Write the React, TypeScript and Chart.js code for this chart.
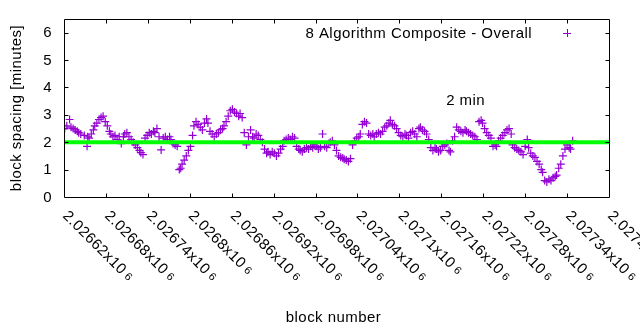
import React, { useEffect, useRef } from 'react';
import { Chart, registerables } from 'chart.js';

Chart.register(...registerables);

// ---- data ----
const BLOCKS: number[] = [
  2026621, 2026624, 2026628, 2026630, 2026633, 2026636, 2026639, 2026641, 2026644, 2026649,
  2026653, 2026654, 2026656, 2026659, 2026662, 2026664, 2026667, 2026670, 2026673, 2026676,
  2026679, 2026682, 2026685, 2026687, 2026690, 2026693, 2026696, 2026699, 2026702, 2026705,
  2026707, 2026710, 2026713, 2026716, 2026719, 2026722, 2026725, 2026728, 2026730, 2026733,
  2026736, 2026739, 2026742, 2026745, 2026748, 2026750, 2026753, 2026756, 2026759, 2026762,
  2026765, 2026768, 2026771, 2026773, 2026776, 2026779, 2026782, 2026785, 2026787, 2026789,
  2026792, 2026795, 2026798, 2026801, 2026804, 2026806, 2026809, 2026812, 2026815, 2026818,
  2026821, 2026824, 2026826, 2026829, 2026832, 2026835, 2026838, 2026841, 2026844, 2026847,
  2026849, 2026852, 2026855, 2026858, 2026861, 2026864, 2026867, 2026870, 2026872, 2026875,
  2026878, 2026881, 2026884, 2026887, 2026890, 2026892, 2026895, 2026898, 2026901, 2026904,
  2026907, 2026910, 2026912, 2026915, 2026918, 2026921, 2026924, 2026927, 2026930, 2026933,
  2026935, 2026938, 2026941, 2026944, 2026947, 2026950, 2026953, 2026956, 2026958, 2026961,
  2026964, 2026967, 2026970, 2026973, 2026976, 2026978, 2026981, 2026984, 2026987, 2026990,
  2026993, 2026996, 2026999, 2027001, 2027004, 2027007, 2027010, 2027013, 2027016, 2027019,
  2027021, 2027024, 2027027, 2027030, 2027033, 2027036, 2027039, 2027042, 2027044, 2027047,
  2027050, 2027053, 2027056, 2027059, 2027062, 2027064, 2027067, 2027070, 2027073, 2027076,
  2027079, 2027082, 2027085, 2027087, 2027090, 2027093, 2027096, 2027099, 2027102, 2027105,
  2027108, 2027110, 2027113, 2027116, 2027119, 2027122, 2027125, 2027128, 2027130, 2027133,
  2027136, 2027139, 2027142, 2027145, 2027148, 2027151, 2027153, 2027156, 2027159, 2027162,
  2027165, 2027168, 2027171, 2027173, 2027176, 2027179, 2027182, 2027185, 2027188, 2027191,
  2027194, 2027196, 2027199, 2027202, 2027205, 2027208, 2027211, 2027214, 2027217, 2027219,
  2027222, 2027225, 2027228, 2027231, 2027234, 2027237, 2027239, 2027242, 2027245, 2027248,
  2027251, 2027254, 2027257, 2027260, 2027262, 2027265, 2027268, 2027271, 2027274, 2027277,
  2027280, 2027283, 2027285, 2027288, 2027291, 2027294, 2027297, 2027300, 2027303, 2027305,
  2027308, 2027311, 2027314, 2027317, 2027320, 2027323, 2027325, 2027328, 2027331, 2027334,
  2027337, 2027340, 2027343, 2027345, 2027348,
];

const SPACING_MIN: number[] = [
  2.5, 2.6, 2.83, 2.55, 2.5, 2.45, 2.4, 2.35, 2.3, 2.25,
  1.85, 2.2, 2.15, 2.3, 2.45, 2.6, 2.7, 2.83, 2.9, 2.95,
  2.75, 2.6, 2.4, 2.3, 2.2, 2.25, 2.1, 2.2, 1.95, 2.2,
  2.3, 2.35, 2.2, 2.1, 2.0, 1.9, 1.8, 1.7, 1.62, 1.55,
  2.15, 2.25, 2.35, 2.3, 2.4, 2.35, 2.5, 2.2, 1.72, 2.15,
  2.2, 2.1, 2.2, 2.1, 1.95, 1.9, 1.85, 1.0, 1.05, 1.2,
  1.35, 1.5, 1.7, 1.85, 2.25, 2.6, 2.75, 2.65, 2.55, 2.45,
  2.7, 2.85, 2.7, 2.4, 2.3, 2.2, 2.3, 2.35, 2.45, 2.5,
  2.6, 2.75, 2.95, 3.15, 3.2, 3.1, 3.05, 2.95, 3.05, 2.9,
  2.35, 1.9, 2.2, 2.45, 2.2, 2.15, 2.3, 2.25, 2.1, 2.0,
  1.75, 1.6, 1.65, 1.55, 1.65, 1.6, 1.5, 1.6, 1.75, 1.85,
  2.05, 2.1, 2.15, 2.1, 2.2, 2.15, 1.85, 1.75, 1.7, 1.65,
  1.75, 1.8, 1.75, 1.85, 1.8, 1.9, 1.85, 1.75, 1.8, 2.3,
  1.85, 1.8, 1.95, 2.0, 2.05, 1.9, 1.7, 1.5, 1.45, 1.42,
  1.38, 1.35, 1.3, 1.4, 1.9, 2.05, 2.15, 2.2, 2.3, 2.65,
  2.75, 2.7, 2.3, 2.25, 2.3, 2.2, 2.3, 2.35, 2.3, 2.4,
  2.55, 2.6, 2.7, 2.8, 2.65, 2.6, 2.5, 2.35, 2.25, 2.2,
  2.3, 2.25, 2.15, 2.35, 2.4, 2.3, 2.2, 2.5, 2.55, 2.45,
  2.4, 2.3, 2.1, 1.8, 1.7, 1.8, 1.75, 1.65, 1.7, 1.85,
  1.9, 1.95, 1.7, 1.65, 2.05, 2.2, 2.55, 2.45, 2.4, 2.35,
  2.45, 2.4, 2.35, 2.3, 2.25, 2.2, 2.1, 2.75, 2.8, 2.7,
  2.5, 2.35, 2.25, 2.15, 1.85, 1.9, 1.85, 2.05, 2.15, 2.25,
  2.35, 2.45, 2.5, 2.3, 1.9, 1.8, 1.75, 1.7, 1.65, 1.55,
  1.85, 2.1, 1.8, 1.6, 1.5, 1.45, 1.3, 1.2, 1.0, 0.9,
  0.6, 0.55, 0.65, 0.6, 0.7, 0.75, 0.8, 1.05, 1.2, 1.5,
  1.75, 1.9, 1.8, 1.75, 2.05,
];

const X_MIN = 2026620;
const X_MAX = 2027400;
const Y_MIN = 0;
const Y_MAX = 6.5;
const TARGET_MIN = 2;

const X_TICKS: number[] = [
  2026620, 2026680, 2026740, 2026800, 2026860, 2026920, 2026980,
  2027040, 2027100, 2027160, 2027220, 2027280, 2027340, 2027400,
];
const X_TICK_MANTISSA: string[] = [
  '2.02662', '2.02668', '2.02674', '2.0268', '2.02686', '2.02692', '2.02698',
  '2.02704', '2.0271', '2.02716', '2.02722', '2.02728', '2.02734', '2.0274',
];
const X_TICK_EXP = '6';
const Y_TICKS: number[] = [0, 1, 2, 3, 4, 5, 6];

const SERIES_LABEL = '8 Algorithm Composite - Overall';
const X_TITLE = 'block number';
const Y_TITLE = 'block spacing [minutes]';
const NOTE_TEXT = '2 min';
const NOTE_X = 2027167;
const NOTE_Y = 3.5;

const PURPLE = '#9400d3';
const GREEN = '#00ff00';
const FONT_FAMILY = '"Liberation Sans", Arial, Helvetica, sans-serif';
const TICK_LEN = 4;

const gnuplotDecor = {
  id: 'gnuplotDecor',
  afterDraw(chart: any) {
    const { ctx, chartArea: a, scales } = chart;
    const xs = scales.x;
    const ys = scales.y;
    const L = Math.round(a.left) + 0.5;
    const R = Math.round(a.right) + 0.5;
    const T = Math.round(a.top) + 0.5;
    const B = Math.round(a.bottom) + 0.5;
    ctx.save();
    ctx.strokeStyle = '#000';
    ctx.lineWidth = 1;
    ctx.beginPath();
    ctx.rect(L, T, R - L, B - T);
    for (const v of X_TICKS) {
      const px = Math.round(xs.getPixelForValue(v)) + 0.5;
      if (px <= L + 1 || px >= R - 1) continue;
      ctx.moveTo(px, B);
      ctx.lineTo(px, B - TICK_LEN);
      ctx.moveTo(px, T);
      ctx.lineTo(px, T + TICK_LEN);
    }
    for (const v of Y_TICKS) {
      const py = Math.round(ys.getPixelForValue(v)) + 0.5;
      if (py <= T + 1 || py >= B - 1) continue;
      ctx.moveTo(L, py);
      ctx.lineTo(L + TICK_LEN, py);
      ctx.moveTo(R, py);
      ctx.lineTo(R - TICK_LEN, py);
    }
    ctx.stroke();

    ctx.fillStyle = '#000';
    (ctx as any).letterSpacing = '0.45px';
    ctx.font = `15px ${FONT_FAMILY}`;

    // y tick labels
    ctx.textAlign = 'right';
    ctx.textBaseline = 'middle';
    for (const v of Y_TICKS) {
      ctx.fillText(String(v), a.left - 12, ys.getPixelForValue(v) + 0.5);
    }

    // x tick labels, rotated -45 (clockwise)
    for (let i = 0; i < X_TICKS.length; i++) {
      const px = xs.getPixelForValue(X_TICKS[i]);
      ctx.save();
      ctx.translate(px - 2, a.bottom + 19.5);
      ctx.rotate(Math.PI / 4);
      ctx.textAlign = 'left';
      ctx.textBaseline = 'alphabetic';
      ctx.font = `15px ${FONT_FAMILY}`;
      const main = X_TICK_MANTISSA[i] + 'x10';
      ctx.fillText(main, 0, 0);
      const w = ctx.measureText(main).width;
      ctx.font = `11px ${FONT_FAMILY}`;
      ctx.fillText(X_TICK_EXP, w + 3.5, -1);
      ctx.restore();
    }

    ctx.font = `15px ${FONT_FAMILY}`;
    // y title
    ctx.save();
    ctx.translate(17, (a.top + a.bottom) / 2);
    ctx.rotate(-Math.PI / 2);
    ctx.textAlign = 'center';
    ctx.textBaseline = 'middle';
    ctx.fillText(Y_TITLE, 0, 0);
    ctx.restore();

    // x title
    ctx.textAlign = 'center';
    ctx.textBaseline = 'alphabetic';
    ctx.fillText(X_TITLE, (a.left + a.right) / 2 - 3, 321.5);

    // legend
    ctx.textAlign = 'right';
    ctx.fillText(SERIES_LABEL, 532, 37.5);
    (ctx as any).letterSpacing = '0px';
    ctx.strokeStyle = PURPLE;
    ctx.beginPath();
    ctx.moveTo(563, 33.5);
    ctx.lineTo(571, 33.5);
    ctx.moveTo(567.5, 29);
    ctx.lineTo(567.5, 37);
    ctx.stroke();

    // note
    (ctx as any).letterSpacing = '0.45px';
    ctx.fillStyle = '#000';
    ctx.textAlign = 'left';
    ctx.textBaseline = 'middle';
    ctx.fillText(NOTE_TEXT, xs.getPixelForValue(NOTE_X), ys.getPixelForValue(NOTE_Y));
    (ctx as any).letterSpacing = '0px';
    ctx.restore();
  },
};

export default function App() {
  const ref = useRef<HTMLCanvasElement | null>(null);
  useEffect(() => {
    if (!ref.current) return;
    const points = BLOCKS.map((b, i) => ({ x: b, y: SPACING_MIN[i] }));
    const chart = new Chart(ref.current, {
      type: 'scatter',
      data: {
        datasets: [
          {
            type: 'line' as any,
            label: 'target',
            data: [
              { x: X_MIN, y: TARGET_MIN },
              { x: X_MAX, y: TARGET_MIN },
            ],
            borderColor: GREEN,
            borderWidth: 4,
            pointRadius: 0,
            fill: false,
            order: 0,
          },
          {
            label: SERIES_LABEL,
            data: points,
            pointStyle: 'cross',
            pointRadius: 4,
            pointBorderWidth: 1.2,
            borderColor: PURPLE,
            backgroundColor: PURPLE,
            pointBorderColor: PURPLE,
            showLine: false,
            order: 1,
          },
        ],
      },
      options: {
        responsive: false,
        animation: false,
        devicePixelRatio: 1,
        layout: { padding: { left: 64, right: 31, top: 19, bottom: 133 } },
        plugins: {
          legend: { display: false },
          tooltip: { enabled: false },
        },
        scales: {
          x: { type: 'linear', min: X_MIN, max: X_MAX, display: false },
          y: { type: 'linear', min: Y_MIN, max: Y_MAX, display: false },
        },
      },
      plugins: [gnuplotDecor],
    });
    return () => chart.destroy();
  }, []);
  return (
    <div style={{ position: 'absolute', left: 0, top: 0, width: 640, height: 330, background: '#fff' }}>
      <canvas ref={ref} width={640} height={330} style={{ display: 'block', width: 640, height: 330 }} />
    </div>
  );
}
